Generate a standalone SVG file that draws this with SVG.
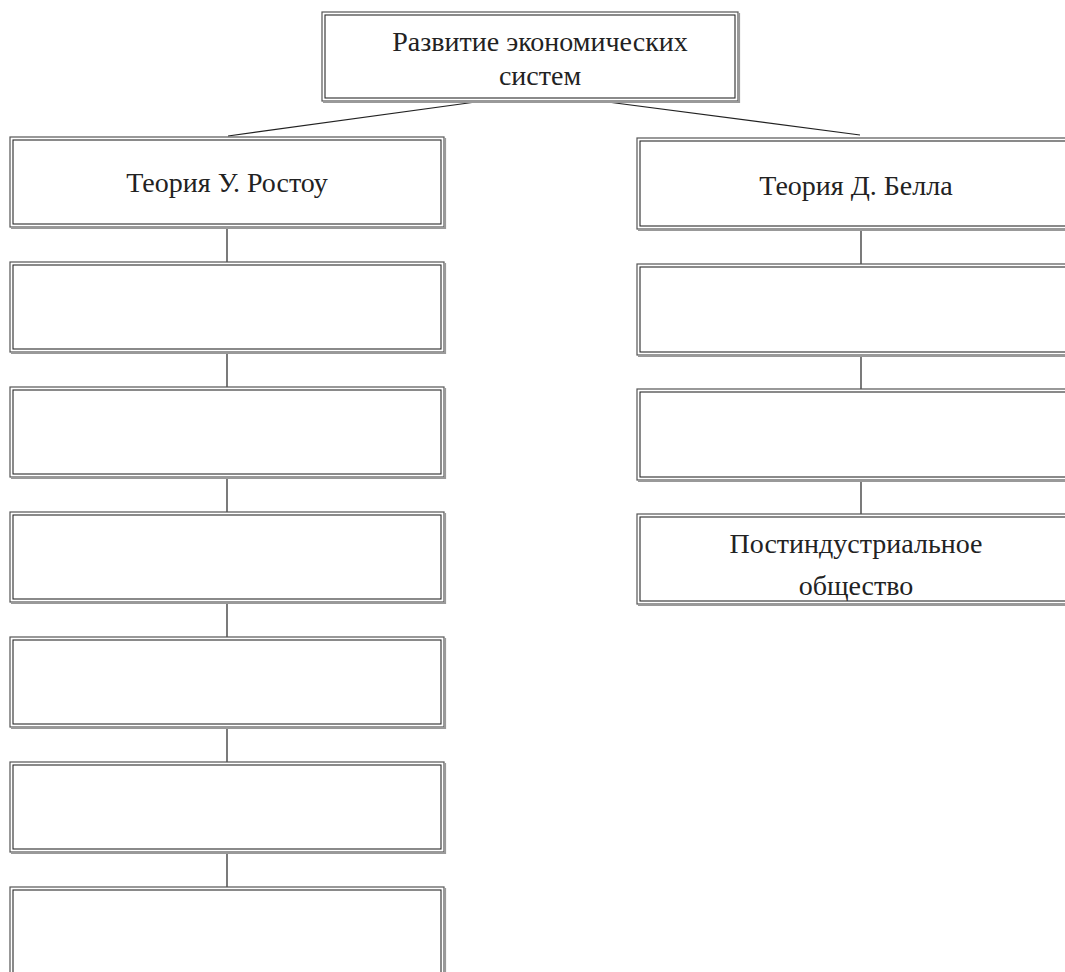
<svg xmlns="http://www.w3.org/2000/svg" width="1065" height="972" viewBox="0 0 1065 972">
<style>
.o{fill:#fff;stroke:#555;stroke-width:1.2}
.i{fill:none;stroke:#2a2a2a;stroke-width:1.1}
.s{fill:none;stroke:#999;stroke-width:2.2}
.c{stroke:#222;stroke-width:1.2;fill:none}
text{font-family:"Liberation Serif","Times New Roman",serif;font-size:28px;fill:#222;text-anchor:middle}
</style>
<rect width="1065" height="972" fill="#fff"/>
<g id="connectors">
<line class="c" x1="483" y1="101" x2="228" y2="136"/>
<line class="c" x1="600" y1="101" x2="860" y2="135"/>
<line class="c" x1="227" y1="228" x2="227" y2="262"/>
<line class="c" x1="227" y1="353" x2="227" y2="387"/>
<line class="c" x1="227" y1="478" x2="227" y2="512"/>
<line class="c" x1="227" y1="603" x2="227" y2="637"/>
<line class="c" x1="227" y1="728" x2="227" y2="762"/>
<line class="c" x1="227" y1="853" x2="227" y2="887"/>
<line class="c" x1="861" y1="230" x2="861" y2="264"/>
<line class="c" x1="861" y1="355" x2="861" y2="389"/>
<line class="c" x1="861" y1="480" x2="861" y2="514"/>
</g>
<g id="n0">
<rect class="o" x="322" y="12" width="416" height="89"/>
<polyline class="s" points="739,13 739,102 323,102"/>
<rect class="i" x="325" y="15" width="410" height="83"/>
<text x="540" y="51">Развитие экономических</text>
<text x="540" y="85">систем</text>
</g>
<g id="l1">
<rect class="o" x="10" y="137" width="434" height="90"/>
<polyline class="s" points="445,138 445,228 11,228"/>
<rect class="i" x="13" y="140" width="428" height="84"/>
<text x="227" y="192">Теория У. Ростоу</text>
</g>
<g id="l2">
<rect class="o" x="10" y="262" width="434" height="90"/>
<polyline class="s" points="445,263 445,353 11,353"/>
<rect class="i" x="13" y="265" width="428" height="84"/>
</g>
<g id="l3">
<rect class="o" x="10" y="387" width="434" height="90"/>
<polyline class="s" points="445,388 445,478 11,478"/>
<rect class="i" x="13" y="390" width="428" height="84"/>
</g>
<g id="l4">
<rect class="o" x="10" y="512" width="434" height="90"/>
<polyline class="s" points="445,513 445,603 11,603"/>
<rect class="i" x="13" y="515" width="428" height="84"/>
</g>
<g id="l5">
<rect class="o" x="10" y="637" width="434" height="90"/>
<polyline class="s" points="445,638 445,728 11,728"/>
<rect class="i" x="13" y="640" width="428" height="84"/>
</g>
<g id="l6">
<rect class="o" x="10" y="762" width="434" height="90"/>
<polyline class="s" points="445,763 445,853 11,853"/>
<rect class="i" x="13" y="765" width="428" height="84"/>
</g>
<g id="l7">
<rect class="o" x="10" y="887" width="434" height="90"/>
<polyline class="s" points="445,888 445,978"/>
<rect class="i" x="13" y="890" width="428" height="84"/>
</g>
<g id="r1">
<rect class="o" x="637" y="138" width="440" height="91"/>
<line class="s" x1="638" y1="230" x2="1077" y2="230"/>
<rect class="i" x="640" y="141" width="434" height="85"/>
<text x="856" y="195">Теория Д. Белла</text>
</g>
<g id="r2">
<rect class="o" x="637" y="264" width="440" height="91"/>
<line class="s" x1="638" y1="356" x2="1077" y2="356"/>
<rect class="i" x="640" y="267" width="434" height="85"/>
</g>
<g id="r3">
<rect class="o" x="637" y="389" width="440" height="91"/>
<line class="s" x1="638" y1="481" x2="1077" y2="481"/>
<rect class="i" x="640" y="392" width="434" height="85"/>
</g>
<g id="r4">
<rect class="o" x="637" y="514" width="440" height="90"/>
<line class="s" x1="638" y1="605" x2="1077" y2="605"/>
<rect class="i" x="640" y="517" width="434" height="84"/>
<text x="856" y="553">Постиндустриальное</text>
<text x="856" y="595">общество</text>
</g>
</svg>
